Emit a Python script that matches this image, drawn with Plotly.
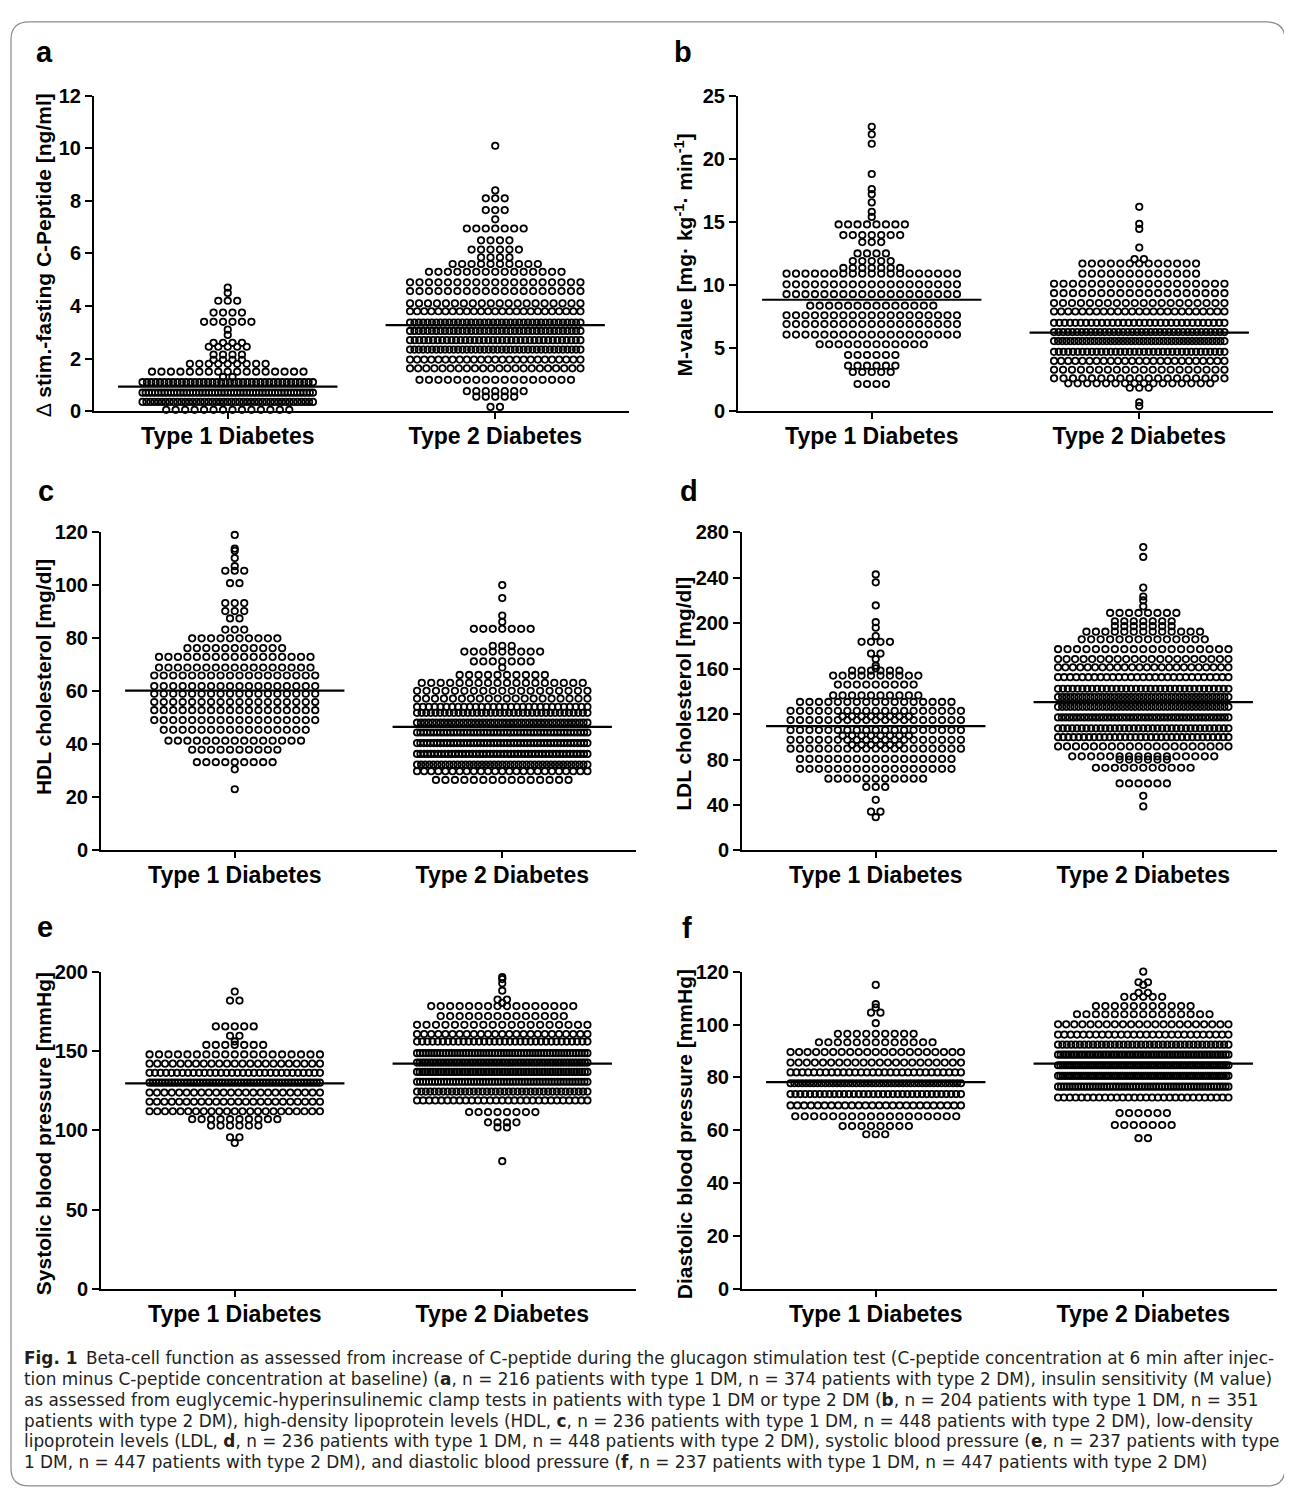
import plotly.graph_objects as go

W, H = 1292, 1501          # size of the browser page to match
PAGE_MARGIN = 8            # default body margin of the html page
FW, FH = W - 2 * PAGE_MARGIN, H - 2 * PAGE_MARGIN
categories = ["Type 1 Diabetes", "Type 2 Diabetes"]

# ---------------- data: rows of (value, number of patients at that value) ----------------
# a: delta stimulated - fasting C-peptide [ng/ml]
a_t1_vals = [4.7, 4.5, 4.2, 3.75, 3.4, 3.1, 2.9, 2.6, 2.45, 2.15, 1.95, 1.8, 1.5, 1.3, 1.1, 0.7, 0.35, 0.05]
a_t1_counts = [1, 1, 3, 4, 6, 1, 1, 4, 5, 4, 4, 9, 17, 2, 40, 55, 45, 14]
a_t2_vals = [10.1, 8.4, 8.1, 7.65, 7.3, 6.95, 6.5, 6.15, 5.85, 5.6, 5.3, 4.9, 4.57, 4.1, 3.8, 3.37, 3.05, 2.7,
             2.34, 1.96, 1.63, 1.19, 0.76, 0.55, 0.16]
a_t2_counts = [1, 1, 3, 3, 1, 7, 4, 6, 4, 10, 15, 19, 19, 20, 25, 40, 40, 38, 40, 25, 22, 17, 7, 5, 2]
a_means = [0.93, 3.27]

# b: M-value
b_t1_vals = [22.55, 21.95, 21.2, 18.8, 17.6, 17.2, 16.55, 15.8, 15.4, 14.8, 13.96, 13.4, 12.5, 11.9, 11.35,
             10.9, 10.05, 9.27, 8.36, 7.6, 6.9, 6.07, 5.3, 4.45, 3.6, 3.1, 2.15]
b_t1_counts = [1, 1, 1, 1, 1, 1, 1, 1, 1, 8, 7, 3, 4, 5, 7, 19, 19, 19, 14, 19, 19, 19, 12, 6, 6, 5, 4]
b_t2_vals = [16.2, 14.85, 14.45, 12.97, 12.05, 11.7, 10.9, 10.1, 9.35, 8.57, 7.9, 7.0, 6.27, 5.55, 4.7, 3.98,
             3.28, 2.6, 2.2, 1.85, 0.7, 0.4]
b_t2_counts = [1, 1, 1, 1, 2, 13, 13, 19, 19, 20, 25, 33, 38, 43, 37, 25, 20, 19, 16, 3, 1, 1]
b_means = [8.83, 6.23]

# c: HDL cholesterol [mg/dl]
c_t1_vals = [119, 113.8, 113, 110.3, 107.2, 105.5, 100.8, 93.3, 90.3, 87.5, 83.3, 80, 76.3, 73, 69, 66, 62,
             59.1, 56, 52.9, 49.2, 45.5, 41.4, 38, 33.3, 30.6, 23.1]
c_t1_counts = [1, 1, 1, 1, 1, 3, 2, 3, 3, 2, 3, 10, 11, 17, 17, 18, 18, 18, 18, 18, 18, 16, 15, 10, 9, 1, 1]
c_t2_vals = [100.1, 95.2, 88.6, 86.2, 83.6, 77.2, 75, 71.3, 69, 66.2, 63.2, 60.2, 57.3, 54.2, 51.9, 48.2,
             44.5, 40.5, 36.4, 32.4, 29.9, 26.6]
c_t2_counts = [1, 1, 1, 1, 7, 3, 9, 7, 1, 10, 18, 19, 20, 30, 38, 45, 52, 52, 50, 43, 25, 15]
c_means = [60.3, 46.6]

# d: LDL cholesterol [mg/dl]
d_t1_vals = [242.9, 236, 215.6, 200.9, 196, 188.7, 183.6, 173.3, 168.4, 162.6, 160.3, 158.3, 153.9, 146,
             136.5, 130.7, 122.9, 118, 114.8, 106, 101, 97.4, 93, 89.6, 80.6, 71.9, 63.2, 55.9, 44.6, 34.2, 29.3]
d_t1_counts = [1, 1, 1, 1, 1, 1, 4, 2, 1, 1, 1, 6, 10, 9, 10, 17, 19, 8, 19, 19, 8, 19, 6, 19, 17, 17, 11, 3,
               1, 2, 1]
d_t2_vals = [267, 258.3, 231.3, 223.5, 220, 214.8, 209, 201.7, 197.4, 192.5, 185.8, 177.1, 168.4, 161.2,
             152.5, 142.3, 135, 126.4, 117.1, 107.5, 99.7, 91.6, 82.9, 80, 72.8, 59, 48.1, 38.8]
d_t2_counts = [1, 1, 1, 1, 1, 1, 8, 7, 7, 13, 14, 19, 21, 24, 29, 36, 43, 43, 46, 37, 34, 20, 16, 6, 11, 6,
               1, 1]
d_means = [109.4, 130.5]

# e: systolic blood pressure [mmHg]
e_t1_vals = [187.5, 181.8, 165.5, 159.6, 156, 153.8, 147.8, 142, 136.2, 130, 123.8, 118, 112, 107, 103,
             95.6, 92]
e_t1_counts = [1, 2, 5, 2, 1, 7, 19, 23, 32, 55, 24, 24, 23, 10, 6, 2, 1]
e_t2_vals = [196.5, 195.3, 192.7, 188, 182.4, 180.3, 178.3, 172, 166.5, 160.7, 155.9, 148.6, 142.7, 136.8,
             130.6, 124.4, 118.8, 111.5, 105, 101.8, 80.5]
e_t2_counts = [1, 1, 1, 1, 2, 1, 16, 14, 19, 25, 34, 60, 65, 65, 58, 40, 29, 8, 4, 2, 1]
e_means = [129.6, 142.0]

# f: diastolic blood pressure [mmHg]
f_t1_vals = [115, 107.7, 106.4, 104.5, 100.5, 96.5, 93.3, 89.6, 85.6, 81.9, 77.8, 73.7, 69.4, 65.3, 61.6, 58.5]
f_t1_counts = [1, 1, 1, 2, 1, 9, 13, 21, 22, 30, 45, 36, 26, 18, 8, 3]
f_t2_vals = [120, 116, 115, 112, 110.5, 107, 103.9, 100.1, 96.2, 92.4, 88.6, 84.6, 80.6, 76.5, 72.4, 66.5,
             62, 57]
f_t2_counts = [1, 2, 1, 2, 5, 11, 15, 22, 28, 40, 65, 75, 75, 60, 30, 6, 7, 2]
f_means = [78.2, 85.2]

y_titles = {
    "a": "\u2206 <b>stim.-fasting C-Peptide [ng/ml]</b>",
    "b": "<b>M-value [mg\u00b7 kg<sup>-1</sup>\u00b7 min<sup>-1</sup>]</b>",
    "c": "<b>HDL cholesterol [mg/dl]</b>",
    "d": "<b>LDL cholesterol [mg/dl]</b>",
    "e": "<b>Systolic blood pressure [mmHg]</b>",
    "f": "<b>Diastolic blood pressure [mmHg]</b>",
}

# ---------------- layout geometry (page pixels) ----------------
panels = [
    dict(k="a", t1=(a_t1_vals, a_t1_counts), t2=(a_t2_vals, a_t2_counts), m=a_means, ymax=12, dt=2,
         xp=(94, 629), yp=(86, 406), letter=(44, 42), tpos=(43, 248)),
    dict(k="b", t1=(b_t1_vals, b_t1_counts), t2=(b_t2_vals, b_t2_counts), m=b_means, ymax=25, dt=5,
         xp=(738, 1273), yp=(86, 406), letter=(683, 42), tpos=(684, 248)),
    dict(k="c", t1=(c_t1_vals, c_t1_counts), t2=(c_t2_vals, c_t2_counts), m=c_means, ymax=120, dt=20,
         xp=(101, 636), yp=(529, 852), letter=(46, 487), tpos=(43, 676)),
    dict(k="d", t1=(d_t1_vals, d_t1_counts), t2=(d_t2_vals, d_t2_counts), m=d_means, ymax=280, dt=40,
         xp=(742, 1277), yp=(529, 852), letter=(689, 487), tpos=(684, 693)),
    dict(k="e", t1=(e_t1_vals, e_t1_counts), t2=(e_t2_vals, e_t2_counts), m=e_means, ymax=200, dt=50,
         xp=(101, 636), yp=(975, 1297), letter=(45, 930), tpos=(43, 1140)),
    dict(k="f", t1=(f_t1_vals, f_t1_counts), t2=(f_t2_vals, f_t2_counts), m=f_means, ymax=120, dt=20,
         xp=(742, 1277), yp=(975, 1297), letter=(687, 931), tpos=(684, 1140)),
]

STEP = 0.0354   # horizontal spacing of neighbouring dots (category units)
MAXW = 0.637    # maximal width of one row of dots (category units)
MEAN_HALF = 0.41
FONT = "Liberation Sans, Arial, sans-serif"


def swarm(vals, counts, center):
    xs, ys = [], []
    for v, n in zip(vals, counts):
        s = STEP if n <= 1 else min(STEP, MAXW / (n - 1))
        for i in range(n):
            xs.append(center + (i - (n - 1) / 2) * s)
            ys.append(v)
    return xs, ys


def px_x(x):
    return (x - PAGE_MARGIN) / FW


def px_y(y):
    return 1 - (y - PAGE_MARGIN) / FH


fig = go.Figure()
annotations = []
layout_axes = {}

for idx, p in enumerate(panels):
    n = idx + 1
    xa = "x" if n == 1 else f"x{n}"
    ya = "y" if n == 1 else f"y{n}"
    for ci, (vals, counts) in enumerate([p["t1"], p["t2"]]):
        xs, ys = swarm(vals, counts, ci)
        fig.add_trace(go.Scatter(
            x=xs, y=ys, mode="markers", xaxis=xa, yaxis=ya, cliponaxis=False,
            marker=dict(symbol="circle-open", size=6.4, color="black", line=dict(width=1.8, color="black")),
            hoverinfo="skip", showlegend=False))
    for ci, mval in enumerate(p["m"]):
        fig.add_trace(go.Scatter(
            x=[ci - MEAN_HALF, ci + MEAN_HALF], y=[mval, mval], mode="lines", xaxis=xa, yaxis=ya,
            cliponaxis=False, line=dict(color="black", width=2.2), hoverinfo="skip", showlegend=False))

    xkey = "xaxis" if n == 1 else f"xaxis{n}"
    ykey = "yaxis" if n == 1 else f"yaxis{n}"
    layout_axes[xkey] = dict(
        domain=[px_x(p["xp"][0]), px_x(p["xp"][1])], anchor=ya, range=[-0.5, 1.5],
        tickvals=[0, 1], ticktext=categories, showline=True, linecolor="black", linewidth=2,
        ticks="outside", ticklen=6, tickwidth=2, tickcolor="black", showgrid=False, zeroline=False,
        ticklabelstandoff=-3,
        tickfont=dict(family=FONT, size=23, color="black", weight="bold"), fixedrange=True)
    layout_axes[ykey] = dict(
        domain=[px_y(p["yp"][1]), px_y(p["yp"][0])], anchor=xa, range=[0, p["ymax"]],
        tick0=0, dtick=p["dt"], showline=True, linecolor="black", linewidth=2,
        ticks="outside", ticklen=7, tickwidth=2, tickcolor="black", showgrid=False, zeroline=False,
        tickfont=dict(family=FONT, size=20, color="black", weight="bold"), fixedrange=True)

    annotations.append(dict(
        text=f"<b>{p['k']}</b>", x=px_x(p["letter"][0]), y=px_y(p["letter"][1]), xref="paper", yref="paper",
        xanchor="center", yanchor="middle", showarrow=False,
        font=dict(family=FONT, size=29, color="black")))
    annotations.append(dict(
        text=y_titles[p["k"]], x=px_x(p["tpos"][0]), y=px_y(p["tpos"][1]), xref="paper", yref="paper",
        xanchor="center", yanchor="middle", textangle=-90, showarrow=False,
        font=dict(family=FONT, size=21, color="black")))

nA = [sum(a_t1_counts), sum(a_t2_counts)]
nB = [sum(b_t1_counts), sum(b_t2_counts)]
nC = [sum(c_t1_counts), sum(c_t2_counts)]
nD = [sum(d_t1_counts), sum(d_t2_counts)]
nE = [sum(e_t1_counts), sum(e_t2_counts)]
nF = [sum(f_t1_counts), sum(f_t2_counts)]

caption = [
    "<b>Fig. 1</b>\u2002Beta-cell function as assessed from increase of C-peptide during the glucagon stimulation "
    "test (C-peptide concentration at 6 min after injec-",
    f"tion minus C-peptide concentration at baseline) (<b>a</b>, n = {nA[0]} patients with type 1 DM, "
    f"n = {nA[1]} patients with type 2 DM), insulin sensitivity (M value)",
    "as assessed from euglycemic-hyperinsulinemic clamp tests in patients with type 1 DM or type 2 DM "
    f"(<b>b</b>, n = {nB[0]} patients with type 1 DM, n = {nB[1]}",
    f"patients with type 2 DM), high-density lipoprotein levels (HDL, <b>c</b>, n = {nC[0]} patients with "
    f"type 1 DM, n = {nC[1]} patients with type 2 DM), low-density",
    f"lipoprotein levels (LDL, <b>d</b>, n = {nD[0]} patients with type 1 DM, n = {nD[1]} patients with "
    f"type 2 DM), systolic blood pressure (<b>e</b>, n = {nE[0]} patients with type",
    f"1 DM, n = {nE[1]} patients with type 2 DM), and diastolic blood pressure (<b>f</b>, n = {nF[0]} "
    f"patients with type 1 DM, n = {nF[1]} patients with type 2 DM)",
]
CAP_TOP = 1367       # centre of the first caption line
CAP_LINE = 21.2      # distance between caption lines
for i, line in enumerate(caption):
    annotations.append(dict(
        text=line, x=px_x(23), y=px_y(CAP_TOP + CAP_LINE * i), xref="paper", yref="paper",
        xanchor="left", yanchor="middle", showarrow=False, borderpad=0,
        font=dict(family="DejaVu Sans, Verdana, sans-serif", size=16.9, color="#231f20")))

# rounded frame around the figure
x0, x1, y0, y1, r = 11, 1285, 11, 1497, 18
frame = (f"M {px_x(x0)},{px_y(y0 + r)} Q {px_x(x0)},{px_y(y0)} {px_x(x0 + r)},{px_y(y0)} "
         f"L {px_x(x1 - r)},{px_y(y0)} Q {px_x(x1)},{px_y(y0)} {px_x(x1)},{px_y(y0 + r)} "
         f"L {px_x(x1)},{px_y(y1 - r)} Q {px_x(x1)},{px_y(y1)} {px_x(x1 - r)},{px_y(y1)} "
         f"L {px_x(x0 + r)},{px_y(y1)} Q {px_x(x0)},{px_y(y1)} {px_x(x0)},{px_y(y1 - r)} Z")

fig.update_layout(
    width=FW, height=FH, margin=dict(l=0, r=0, t=0, b=0),
    paper_bgcolor="white", plot_bgcolor="white", showlegend=False, hovermode=False,
    annotations=annotations,
    shapes=[dict(type="path", path=frame, xref="paper", yref="paper",
                 line=dict(color="#8a8a8a", width=1.2), layer="below")],
    **layout_axes,
)

fig.write_html("out.html")
